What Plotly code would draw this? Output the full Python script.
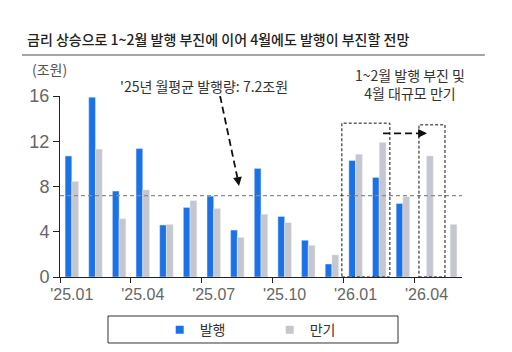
import plotly.graph_objects as go

# ---- data ----
months = ["'25.01", "'25.02", "'25.03", "'25.04", "'25.05", "'25.06", "'25.07", "'25.08",
          "'25.09", "'25.10", "'25.11", "'25.12", "'26.01", "'26.02", "'26.03", "'26.04", "'26.05"]
issuance = [10.7, 15.9, 7.6, 11.35, 4.6, 6.15, 7.15, 4.15, 9.6, 5.35, 3.25, 1.15,
            10.3, 8.8, 6.5, None, None]
maturity = [8.45, 11.3, 5.15, 7.7, 4.65, 6.75, 6.05, 3.5, 5.55, 4.8, 2.8, 1.95,
            10.85, 11.9, 7.1, 10.7, 4.65]
avg_2025 = 7.2
label_every = 3

BLUE = "#1B72E8"
GRAY = "#C5C6CE"
KR = "Noto Sans CJK KR"
NUM = "Liberation Sans Narrow, Arial Narrow, Liberation Sans, sans-serif"

xs = list(range(len(months)))

fig = go.Figure()
fig.add_trace(go.Bar(x=xs, y=issuance, marker_color=BLUE, name="발행", showlegend=False))
fig.add_trace(go.Bar(x=xs, y=maturity, marker_color=GRAY, name="만기", showlegend=False))
# legend markers
fig.add_trace(go.Scatter(x=[None], y=[None], mode="markers", name="발행",
                         marker=dict(symbol="square", size=8, color=BLUE)))
fig.add_trace(go.Scatter(x=[None], y=[None], mode="markers", name="만기",
                         marker=dict(symbol="square", size=8, color=GRAY)))

tick_pos = xs[::label_every]
tick_txt = months[::label_every]
boundaries = [p - 0.5 for p in tick_pos]

fig.update_layout(
    width=512, height=352,
    margin=dict(l=60, r=50, t=96, b=75, autoexpand=False),
    paper_bgcolor="white", plot_bgcolor="white",
    barmode="group", bargap=0.43, bargroupgap=0,
    title=dict(text="금리 상승으로 1~2월 발행 부진에 이어 4월에도 발행이 부진할 전망",
               x=27 / 512, xanchor="left", y=1 - 40 / 352, yanchor="middle",
               font=dict(family=KR, size=14, color="#222222", weight=500)),
    xaxis=dict(range=[-0.5, len(months) - 0.5], tickvals=tick_pos, ticktext=tick_txt,
               ticks="", showline=True, linecolor="#222222", linewidth=1,
               showgrid=False, zeroline=False, automargin=False, ticklabelstandoff=3,
               tickfont=dict(family=NUM, size=16, color="#666666"),
               minor=dict(tickvals=boundaries, ticks="outside", ticklen=5,
                          tickcolor="#222222", showgrid=False)),
    yaxis=dict(range=[0, 16], dtick=4, ticks="outside", ticklen=6, tickcolor="#222222",
               showline=True, linecolor="#222222", linewidth=1, showgrid=False,
               zeroline=False, automargin=False,
               tickfont=dict(family=NUM, size=18, color="#666666")),
    legend=dict(orientation="h", x=0.248, y=-0.293, xanchor="left", yanchor="middle",
                bgcolor="rgba(0,0,0,0)", borderwidth=0, entrywidth=65,
                font=dict(family=KR, size=14, color="#333333")),
    showlegend=True,
)

shapes = [
    # title underline
    dict(type="line", xref="paper", yref="paper", x0=-0.0945, x1=1.057, y0=1.2265, y1=1.2265,
         line=dict(color="#A6A6A6", width=2)),
    # average line
    dict(type="line", xref="paper", yref="y", x0=0, x1=1, y0=avg_2025, y1=avg_2025,
         line=dict(color="#8C8C8C", width=1.2, dash="4px,3px")),
    # dashed boxes
    dict(type="rect", xref="x", yref="y", x0=11.42, x1=13.45, y0=0, y1=13.6,
         line=dict(color="#111111", width=1, dash="3px,2px")),
    dict(type="rect", xref="x", yref="y", x0=14.68, x1=15.78, y0=0, y1=13.45,
         line=dict(color="#111111", width=1, dash="3px,2px")),
    # dashed arrow shafts
    dict(type="line", xref="x", yref="y", x0=6.27, y0=16, x1=7.0, y1=8.8,
         line=dict(color="#111111", width=1.8, dash="7px,4px")),
    dict(type="line", xref="x", yref="y", x0=13.16, y0=12.7, x1=14.75, y1=12.7,
         line=dict(color="#111111", width=1.8, dash="7px,4px")),
    # legend frame
    dict(type="rect", xref="paper", yref="paper", x0=0.1194, x1=0.8408, y0=-0.2155, y1=-0.3646,
         line=dict(color="#333333", width=1)),
]
fig.update_layout(shapes=shapes)

annotations = [
    dict(text="(조원)", xref="paper", yref="paper", x=-0.0746, y=1.149, xanchor="left",
         yanchor="middle", showarrow=False, font=dict(family=KR, size=14, color="#555555")),
    dict(text="'25년 월평균 발행량: 7.2조원", xref="paper", yref="paper", x=0.358, y=1.055,
         xanchor="center", yanchor="middle", showarrow=False,
         font=dict(family=KR, size=14, color="#333333")),
    dict(text="1~2월 발행 부진 및<br>4월 대규모 만기", xref="paper", yref="paper", x=0.871, y=1.066,
         xanchor="center", yanchor="middle", showarrow=False,
         font=dict(family=KR, size=14, color="#333333")),
    # arrowheads
    dict(text="", x=7.07, y=8.05, xref="x", yref="y", showarrow=True, ax=-1.6, ay=-9,
         arrowhead=2, arrowsize=1.1, arrowwidth=1.6, arrowcolor="#111111", standoff=0),
    dict(text="", x=15.02, y=12.7, xref="x", yref="y", showarrow=True, ax=-9, ay=0,
         arrowhead=2, arrowsize=1.1, arrowwidth=1.6, arrowcolor="#111111", standoff=0),
]
fig.update_layout(annotations=annotations)

fig.write_html("out.html")
